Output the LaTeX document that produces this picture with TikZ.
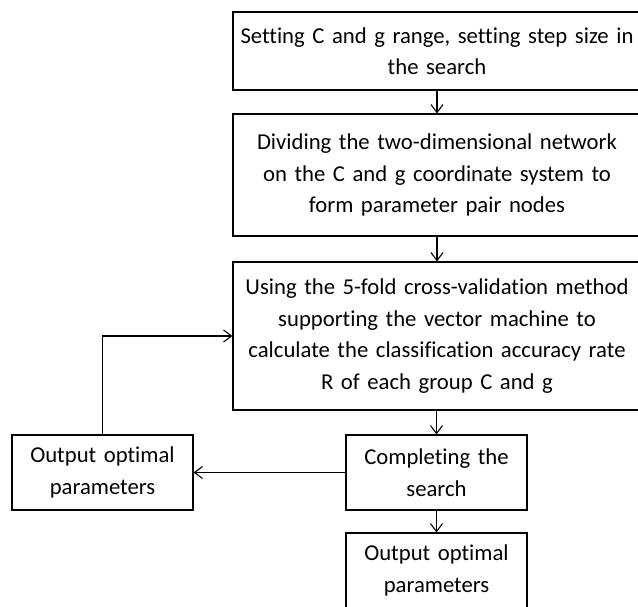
\documentclass[tikz,border=0pt]{standalone}
\usepackage{fontspec}
\setmainfont{Carlito}[Ligatures=NoCommon]
\usetikzlibrary{arrows.meta}

\begin{document}
\begin{tikzpicture}[x=1pt, y=-1pt,
            box/.style={draw, line width=1.1pt, align=center, inner sep=0pt, font=\fontsize{22.7}{31.5}\selectfont},
            wide/.style={box, minimum width=408pt, text width=400pt},
            small/.style={box, minimum width=181pt, minimum height=75pt, text width=175pt},
            link/.style={line width=1.1pt, -{Straight Barb[length=8pt,width=12pt]}}]
            \useasboundingbox (0,0) rectangle (638,606);
            \clip (0,0) rectangle (638,606);

            \coordinate (1) at (437,51);
            \coordinate (2) at (437,175);
            \coordinate (3) at (437,336);
            \coordinate (4) at (102.5,472.5);
            \coordinate (5) at (436.5,472.5);
            \coordinate (6) at (436.5,570.5);

            \node[wide, minimum height=78pt] (range) at (1) {Setting C and g range, setting step size in\\the search};
            \node[wide, minimum height=122pt] (grid) at (2) {Dividing the two-dimensional network\\on the C and g coordinate system to\\form parameter pair nodes};
            \node[wide, minimum height=148pt] (cv) at (3) {Using the 5-fold cross-validation method\\supporting the vector machine to\\calculate the classification accuracy rate\\R of each group C and g};
            \node[small] (outL) at (4) {Output optimal\\parameters};
            \node[small] (done) at (5) {Completing the\\search};
            \node[small] (outB) at (6) {Output optimal\\parameters};

            \draw[link] (range) -- (grid);
            \draw[link] (grid) -- (cv);
            \draw[link] (cv.south -| done) -- (done);
            \draw[link] (done) -- (outB);
            \draw[link] (done) -- (outL);
            \draw[link] (outL.north) |- (cv.west);
        \end{tikzpicture}
\end{document}
